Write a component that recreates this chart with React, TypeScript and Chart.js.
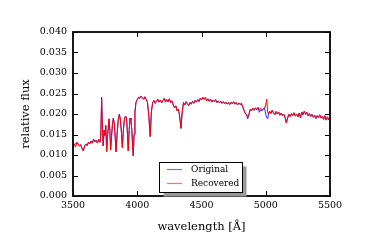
import React, { useEffect, useRef } from "react";
import { Chart, registerables } from "chart.js";

Chart.register(...registerables);

// [wavelength (Å), relative flux]
const recovered: [number, number][] = [
  [3500, 0.0120], [3510, 0.0126], [3520, 0.0119], [3530, 0.0131], [3540, 0.0127], [3550, 0.0122],
  [3560, 0.0125], [3570, 0.0116], [3580, 0.0110], [3590, 0.0122], [3600, 0.0127], [3610, 0.0123],
  [3620, 0.0131], [3630, 0.0127], [3640, 0.0134], [3650, 0.0129], [3660, 0.0137], [3670, 0.0132],
  [3680, 0.0136], [3690, 0.0129], [3700, 0.0138], [3710, 0.0131],
  [3716, 0.0145], [3723, 0.0238], [3729, 0.0165], [3735, 0.0122], [3742, 0.0160], [3748, 0.0148],
  [3755, 0.0172], [3762, 0.0108], [3770, 0.0150], [3780, 0.0188], [3787, 0.0160], [3793, 0.0112],
  [3800, 0.0145], [3807, 0.0175], [3814, 0.0190], [3822, 0.0175], [3829, 0.0140], [3835, 0.0108],
  [3843, 0.0150], [3852, 0.0185], [3861, 0.0200], [3869, 0.0185], [3877, 0.0155], [3884, 0.0118],
  [3892, 0.0160], [3901, 0.0190], [3910, 0.0195], [3918, 0.0185], [3924, 0.0150], [3930, 0.0110],
  [3937, 0.0160], [3944, 0.0190], [3951, 0.0185], [3958, 0.0160], [3964, 0.0120], [3969, 0.0098],
  [3975, 0.0150], [3982, 0.0205], [3990, 0.0228], [4000, 0.0235], [4010, 0.0241], [4020, 0.0238],
  [4030, 0.0244], [4040, 0.0240], [4050, 0.0236], [4060, 0.0242], [4070, 0.0235], [4080, 0.0228],
  [4090, 0.0195], [4101, 0.0145], [4110, 0.0205], [4120, 0.0228], [4130, 0.0233], [4140, 0.0226],
  [4150, 0.0231], [4160, 0.0236], [4170, 0.0229], [4180, 0.0234], [4190, 0.0227], [4200, 0.0233],
  [4210, 0.0238], [4220, 0.0229], [4230, 0.0235], [4240, 0.0230], [4250, 0.0237], [4260, 0.0228],
  [4270, 0.0232], [4280, 0.0222], [4290, 0.0215], [4300, 0.0220], [4310, 0.0208], [4320, 0.0212],
  [4330, 0.0195], [4340, 0.0165], [4350, 0.0205], [4360, 0.0228], [4370, 0.0222], [4380, 0.0230],
  [4390, 0.0225], [4400, 0.0220], [4410, 0.0228], [4420, 0.0224], [4430, 0.0231], [4440, 0.0226],
  [4450, 0.0233], [4460, 0.0229], [4470, 0.0235], [4480, 0.0230], [4490, 0.0238], [4500, 0.0234],
  [4510, 0.0241], [4520, 0.0236], [4530, 0.0240], [4540, 0.0232], [4550, 0.0237], [4560, 0.0231],
  [4570, 0.0236], [4580, 0.0229], [4590, 0.0234], [4600, 0.0230], [4610, 0.0235], [4620, 0.0228],
  [4630, 0.0232], [4640, 0.0227], [4650, 0.0231], [4660, 0.0226], [4670, 0.0230], [4680, 0.0225],
  [4690, 0.0229], [4700, 0.0224], [4710, 0.0228], [4720, 0.0223], [4730, 0.0229], [4740, 0.0225],
  [4750, 0.0230], [4760, 0.0224], [4770, 0.0228], [4780, 0.0222], [4790, 0.0227], [4800, 0.0223],
  [4810, 0.0226], [4820, 0.0218], [4830, 0.0210], [4840, 0.0202], [4850, 0.0198], [4860, 0.0193],
  [4870, 0.0200], [4880, 0.0212], [4890, 0.0208], [4900, 0.0214], [4910, 0.0209], [4920, 0.0215],
  [4930, 0.0210], [4940, 0.0216], [4950, 0.0211], [4960, 0.0214], [4970, 0.0208], [4980, 0.0212],
  [4990, 0.0215], [5000, 0.0222], [5007, 0.0236], [5015, 0.0205], [5020, 0.0200], [5030, 0.0207],
  [5040, 0.0201], [5050, 0.0209], [5060, 0.0203], [5070, 0.0198], [5080, 0.0206], [5090, 0.0200],
  [5100, 0.0205], [5110, 0.0197], [5120, 0.0202], [5130, 0.0196], [5140, 0.0200], [5150, 0.0192],
  [5160, 0.0178], [5170, 0.0190], [5180, 0.0199], [5190, 0.0194], [5200, 0.0201], [5210, 0.0196],
  [5220, 0.0203], [5230, 0.0195], [5240, 0.0200], [5250, 0.0193], [5260, 0.0202], [5270, 0.0191],
  [5280, 0.0205], [5290, 0.0198], [5300, 0.0207], [5310, 0.0199], [5320, 0.0204], [5330, 0.0195],
  [5340, 0.0201], [5350, 0.0194], [5360, 0.0199], [5370, 0.0192], [5380, 0.0197], [5390, 0.0189],
  [5400, 0.0196], [5410, 0.0191], [5420, 0.0198], [5430, 0.0190], [5440, 0.0194], [5450, 0.0187],
  [5460, 0.0196], [5470, 0.0185], [5480, 0.0193], [5490, 0.0186], [5500, 0.0192],
];

// Points where the original spectrum differs from the recovered one
const originalDiffs: [number, number][] = [
  [3520, 0.0127], [3660, 0.0139], [3723, 0.0241], [4860, 0.0188],
  [4950, 0.0204], [4960, 0.0210], [5000, 0.0200], [5007, 0.0191], [5015, 0.0188], [5020, 0.0196],
];

const xTicks = [3500, 4000, 4500, 5000, 5500];
const yTicks = [0, 0.005, 0.01, 0.015, 0.02, 0.025, 0.03, 0.035, 0.04];

const FONT = "'DejaVu Serif', serif";

const diffMap = new Map(originalDiffs.map(([w, f]) => [w, f]));
const originalPts = recovered.map(([w, f]) => ({ x: w, y: diffMap.has(w) ? (diffMap.get(w) as number) : f }));
const recoveredPts = recovered.map(([w, f]) => ({ x: w, y: f }));

const framePlugin = {
  id: "frameTicks",
  afterDatasetsDraw(chart: any) {
    const { ctx, chartArea: a, scales } = chart;
    const xs = scales.x;
    const ys = scales.y;
    ctx.save();
    ctx.strokeStyle = "#000";
    ctx.lineWidth = 1;
    const tl = 5;
    ctx.beginPath();
    xTicks.forEach((v) => {
      const px = Math.round(xs.getPixelForValue(v)) + 0.5;
      ctx.moveTo(px, a.bottom);
      ctx.lineTo(px, a.bottom - tl);
      ctx.moveTo(px, a.top);
      ctx.lineTo(px, a.top + tl);
    });
    yTicks.forEach((v) => {
      const py = Math.round(ys.getPixelForValue(v)) + 0.5;
      ctx.moveTo(a.left, py);
      ctx.lineTo(a.left + tl, py);
      ctx.moveTo(a.right, py);
      ctx.lineTo(a.right - tl, py);
    });
    ctx.stroke();
    ctx.lineWidth = 1.8;
    ctx.strokeRect(a.left, a.top, a.right - a.left, a.bottom - a.top);

    // legend
    const bx = 159.5, by = 162.5, bw = 83, bh = 30;
    ctx.fillStyle = "#999";
    ctx.fillRect(bx + 4, by + 4, bw, bh);
    ctx.fillStyle = "#fff";
    ctx.fillRect(bx, by, bw, bh);
    ctx.lineWidth = 1;
    ctx.strokeStyle = "#000";
    ctx.strokeRect(bx, by, bw, bh);
    const ds = chart.data.datasets;
    const rows = [169.5, 183.5];
    ds.forEach((d: any, i: number) => {
      ctx.strokeStyle = d.legendColor;
      ctx.lineWidth = 1.2;
      ctx.beginPath();
      ctx.moveTo(167, rows[i]);
      ctx.lineTo(182, rows[i]);
      ctx.stroke();
      ctx.fillStyle = "#000";
      ctx.font = `9px ${FONT}`;
      ctx.textBaseline = "middle";
      ctx.textAlign = "left";
      ctx.fillText(d.label, 191, rows[i]);
    });
    ctx.restore();
  },
};

export default function App() {
  const ref = useRef<HTMLCanvasElement | null>(null);
  useEffect(() => {
    document.body.style.margin = "0";
    if (!ref.current) return;
    const chart = new Chart(ref.current, {
      type: "line",
      data: {
        datasets: [
          {
            label: "Original",
            data: originalPts,
            borderColor: "rgb(40,40,255)",
            legendColor: "rgb(110,110,255)",
            borderWidth: 1,
            pointRadius: 0,
            tension: 0,
            order: 2,
          } as any,
          {
            label: "Recovered",
            data: recoveredPts,
            borderColor: "rgb(255,0,0)",
            legendColor: "rgb(255,110,110)",
            borderWidth: 1,
            pointRadius: 0,
            tension: 0,
            order: 1,
          } as any,
        ],
      },
      options: {
        animation: false,
        responsive: false,
        devicePixelRatio: 1,
        layout: { padding: { left: 0, top: 32, right: 36, bottom: 0 } },
        plugins: { legend: { display: false }, tooltip: { enabled: false } },
        scales: {
          x: {
            type: "linear",
            min: 3500,
            max: 5500,
            afterFit: (s: any) => { s.height = 50; },
            afterBuildTicks: (s: any) => { s.ticks = xTicks.map((v) => ({ value: v })); },
            grid: { display: false, drawTicks: false },
            border: { display: false },
            ticks: {
              padding: 4,
              color: "#000",
              font: { family: FONT, size: 9.5 },
              callback: (v: any) => String(v),
            },
            title: {
              display: true,
              text: "wavelength [Å]",
              color: "#000",
              font: { family: FONT, size: 11.5 },
              padding: { top: 0, bottom: 12 },
            },
          },
          y: {
            type: "linear",
            min: 0,
            max: 0.04,
            afterFit: (s: any) => { s.width = 73; },
            afterBuildTicks: (s: any) => { s.ticks = yTicks.map((v) => ({ value: v })); },
            grid: { display: false, drawTicks: false },
            border: { display: false },
            ticks: {
              padding: 6,
              color: "#000",
              font: { family: FONT, size: 9.5 },
              callback: (v: any) => Number(v).toFixed(3),
            },
            title: {
              display: true,
              text: "relative flux",
              color: "#000",
              font: { family: FONT, size: 11.5 },
              padding: { top: 19, bottom: 0 },
            },
          },
        },
      } as any,
      plugins: [framePlugin],
    });
    return () => chart.destroy();
  }, []);
  return (
    <div style={{ width: 366, height: 246 }}>
      <canvas ref={ref} width={366} height={246} style={{ display: "block", width: 366, height: 246 }} />
    </div>
  );
}
